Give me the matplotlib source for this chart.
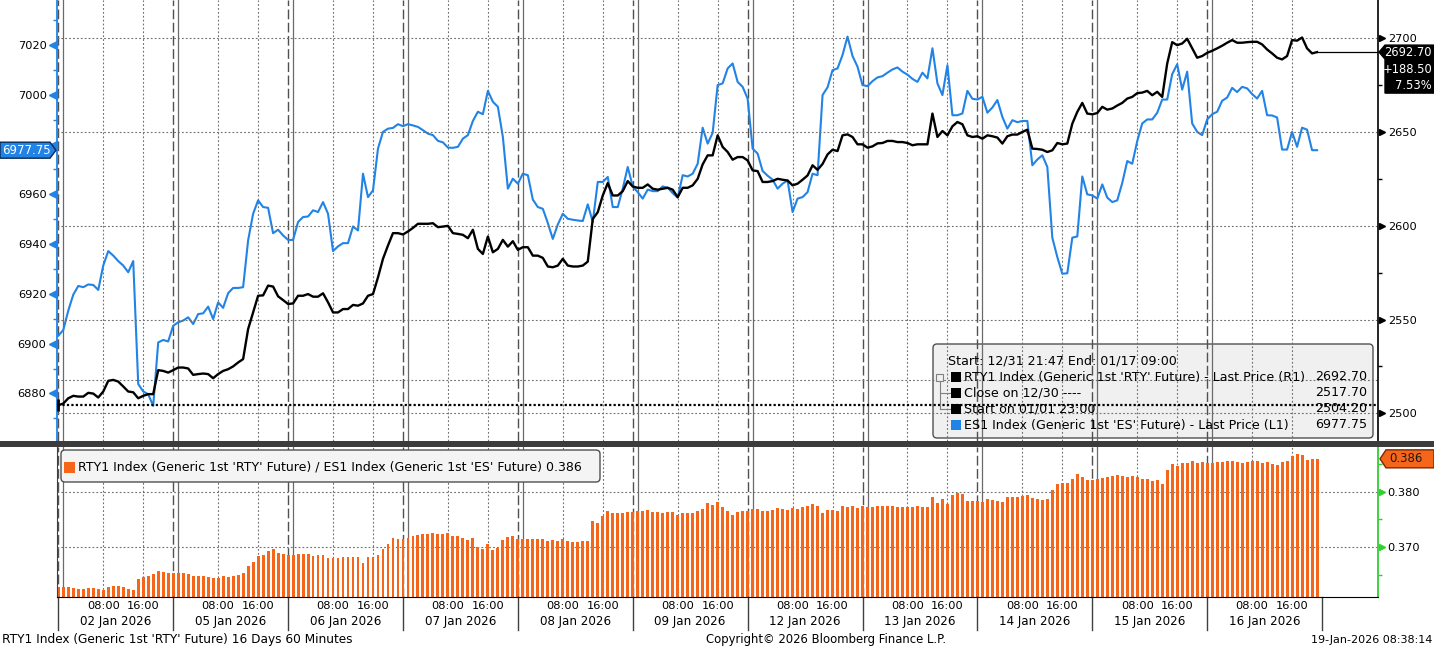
import numpy as np
import matplotlib
matplotlib.use("Agg")
import matplotlib.pyplot as plt
from matplotlib.patches import Polygon, FancyBboxPatch, Rectangle
from matplotlib.lines import Line2D
from matplotlib.ticker import MultipleLocator, FormatStrFormatter, FuncFormatter
from matplotlib.transforms import blended_transform_factory as blend, ScaledTranslation, IdentityTransform

plt.rcParams['font.family'] = ['DejaVu Sans']
plt.rcParams['font.size'] = 8

# ---------------- data (60-minute bars, 23 per session) ----------------
days = ['02 Jan 2026', '05 Jan 2026', '06 Jan 2026', '07 Jan 2026', '08 Jan 2026', '09 Jan 2026',
        '12 Jan 2026', '13 Jan 2026', '14 Jan 2026', '15 Jan 2026', '16 Jan 2026']
bars_per_day = 23
hour_labels = {9: '08:00', 17: '16:00'}

rty = [
    2504.3, 2505.2, 2508.0, 2509.3, 2508.9, 2508.9, 2510.9, 2510.5, 2508.4, 2511.6,
    2517.3, 2517.8, 2516.9, 2514.3, 2511.6, 2511.2, 2508.0, 2509.3, 2510.2, 2510.2,
    2523.0, 2522.6, 2521.7, 2523.0, 2524.4, 2524.4, 2523.9, 2520.5, 2520.9, 2521.2,
    2520.9, 2518.7, 2520.9, 2522.6, 2523.5, 2525.0, 2527.1, 2528.9, 2544.9, 2553.8,
    2562.7, 2562.9, 2568.1, 2567.6, 2562.4, 2560.4, 2558.3, 2558.6, 2562.7, 2562.7,
    2563.6, 2562.2, 2562.2, 2564.0, 2559.2,
    2553.8, 2553.8, 2555.6, 2555.6, 2557.8,
    2557.4, 2558.6, 2562.7, 2563.6, 2572.5, 2582.4, 2589.5, 2596.1, 2596.1, 2595.4,
    2597.0, 2598.9, 2601.1, 2601.1, 2601.1, 2601.4, 2599.3, 2599.6, 2600.0, 2596.1,
    2595.7, 2595.2, 2593.4, 2597.9, 2587.7, 2585.0, 2594.3, 2585.9, 2587.7, 2592.5,
    2588.9, 2591.8, 2587.2, 2588.6, 2588.6, 2584.1, 2584.1, 2582.9, 2578.3, 2577.9,
    2578.8, 2582.4, 2578.8, 2578.3, 2578.3, 2578.8, 2580.9, 2603.7, 2607.3,
    2616.2, 2622.8, 2616.2, 2616.2, 2618.5, 2623.9, 2621.0, 2620.3, 2620.3, 2622.1, 2619.8,
    2619.3, 2619.8, 2620.3, 2619.3, 2615.3, 2620.3, 2620.3, 2621.6, 2625.1, 2632.8,
    2637.6, 2637.6, 2648.3, 2642.1, 2639.4, 2635.3, 2636.7, 2636.7, 2634.9, 2629.6,
    2629.2, 2623.4, 2623.4, 2623.9, 2625.1, 2624.6, 2624.2, 2621.6, 2622.5, 2624.6,
    2626.9, 2632.3, 2629.9, 2633.0, 2638.1, 2640.6, 2639.9, 2648.3, 2648.8, 2647.4,
    2643.5, 2643.5,
    2641.7, 2642.4, 2644.0, 2644.2, 2645.3, 2645.3, 2644.7, 2644.7, 2644.2, 2643.0,
    2643.5, 2643.5, 2643.5, 2659.9, 2647.4, 2650.6, 2648.3, 2653.1, 2655.4, 2654.2,
    2648.3, 2647.4, 2647.8, 2646.5, 2648.3, 2647.8, 2647.1, 2643.9, 2647.8, 2648.7,
    2648.7, 2650.1, 2651.3, 2641.2, 2641.0, 2640.6, 2639.4, 2640.3, 2644.2, 2643.5,
    2643.9, 2654.5, 2660.8, 2665.6, 2659.9, 2659.5, 2660.2, 2663.5, 2662.0, 2662.6,
    2664.2, 2665.6, 2667.9, 2668.8, 2670.8,
    2671.1, 2672.0, 2669.7, 2671.5, 2668.8, 2686.6, 2698.0, 2696.4, 2697.3, 2699.8,
    2694.7, 2689.7, 2690.6, 2692.3, 2693.4, 2694.7, 2696.1, 2697.7, 2699.1, 2697.7,
    2697.7, 2698.0, 2698.2, 2698.2, 2696.8, 2694.1, 2692.0, 2689.7, 2688.8, 2690.6,
    2699.1, 2698.8, 2700.5, 2694.7, 2692.0, 2692.7,
]

es = [
    6903.2, 6905.5, 6913.3, 6919.7, 6923.2, 6922.7, 6923.8, 6923.6, 6921.6, 6931.4,
    6937.2, 6935.4, 6933.2, 6931.4, 6928.7, 6933.2, 6883.8, 6880.8, 6879.7, 6875.0,
    6900.5, 6901.5, 6900.9, 6907.2, 6908.6, 6909.3, 6910.6, 6907.9, 6911.9, 6912.2,
    6914.9, 6909.9, 6916.6, 6914.4, 6920.3, 6922.4, 6922.4, 6922.7, 6941.5, 6952.2,
    6957.6, 6954.9, 6954.6, 6944.4, 6945.8, 6943.5, 6941.7, 6941.7, 6948.9, 6950.9,
    6951.1, 6953.6, 6952.9, 6956.9, 6952.2,
    6937.2, 6939.1, 6940.4, 6940.4, 6947.1,
    6945.5, 6968.3, 6958.9, 6961.6, 6978.4, 6985.1, 6986.4, 6986.7, 6988.2, 6987.4,
    6988.2, 6987.7, 6987.1, 6985.8, 6984.4, 6983.8, 6981.5, 6980.9, 6978.8, 6978.7,
    6979.1, 6982.4, 6983.8, 6989.5, 6993.2, 6992.2, 7001.6, 6997.2, 6995.2, 6983.1,
    6962.3, 6966.3, 6964.3, 6968.3, 6967.7, 6957.9, 6954.9, 6954.2, 6948.5, 6942.1,
    6947.9, 6952.2, 6950.2, 6949.8, 6949.5, 6949.3, 6956.0, 6948.9, 6965.0,
    6965.0, 6967.0, 6954.9, 6954.9, 6962.3, 6971.0, 6963.2, 6960.9, 6958.3, 6961.9, 6961.3,
    6961.3, 6963.2, 6962.7, 6960.5, 6958.7, 6967.7, 6967.2, 6968.3, 6972.3, 6986.8,
    6980.4, 6984.7, 7003.9, 7004.6, 7010.6, 7012.6, 7005.2, 7003.2, 6998.5, 6978.4,
    6976.4, 6969.4, 6967.5, 6965.9, 6962.3, 6964.3, 6965.6, 6952.9, 6958.3, 6958.9,
    6960.9, 6968.3, 6967.7, 6999.9, 7003.0, 7009.9, 7010.6, 7016.0, 7023.4, 7015.6,
    7011.3, 7003.9,
    7003.5, 7005.5, 7007.0, 7007.5, 7008.9, 7010.2, 7011.0, 7009.3, 7008.1, 7006.4,
    7005.2, 7008.9, 7006.6, 7018.7, 7004.6, 6999.9, 7011.9, 6991.8, 6991.8, 6992.5,
    7001.6, 6998.4, 6998.1, 6999.2, 6992.8, 6994.9, 6997.9, 6991.1, 6986.4, 6989.8,
    6989.0, 6989.5, 6989.5, 6971.7, 6974.0, 6975.7, 6971.0, 6942.6, 6934.8, 6928.1,
    6928.3, 6942.6, 6943.1, 6967.2, 6960.0, 6959.6, 6958.3, 6964.0, 6958.7, 6956.9,
    6957.6, 6964.6, 6973.4, 6972.3, 6981.4,
    6988.5, 6990.1, 6990.1, 6992.8, 6998.1, 6998.1, 7008.3, 7012.3, 7002.1, 7009.3,
    6988.5, 6985.1, 6983.8, 6990.1, 6992.2, 6993.2, 6997.6, 6998.9, 7002.8, 7001.1,
    7003.2, 7002.6, 7000.3, 6998.5, 7001.6, 6991.8, 6991.7, 6990.9, 6978.0, 6978.0,
    6985.1, 6979.1, 6986.8, 6986.0, 6977.75, 6977.75,
]

rty_close_prev = 2517.70   # Close on 12/30
rty_start = 2504.20        # Start on 01/01 23:00

ratio = np.array(rty) / np.array(es)   # RTY1 / ES1

# ---------------- styling ----------------
BLUE = '#2183E6'
ORANGE = '#F5661A'
GREEN = '#2FD02F'
GRID = '#707070'
W, H = 1434, 649
ID = IdentityTransform()

fig = plt.figure(figsize=(W / 100, H / 100), dpi=100)
L, R = 57, 1378
XLIM = (-0.26, 264.2)

ax = fig.add_axes([L / W, 1 - 441 / H, (R - L) / W, 441 / H])
axr = ax.twinx()
ax2 = fig.add_axes([L / W, 1 - 597 / H, (R - L) / W, 150 / H])


def vgrid(a):
    for k in range(len(days)):
        b = k * bars_per_day
        a.axvline(b, color='#505050', lw=1.0, ls=(0, (7, 2.5)), zorder=1)
        a.axvline(b + 1, color='#6a6a6a', lw=0.9, zorder=1)
        for h in hour_labels:
            a.axvline(b + h, color=GRID, lw=0.8, ls=(0, (1.6, 1.9)), zorder=1)


vgrid(ax)
vgrid(ax2)

# horizontal grid (right scale) + reference lines
for v in [2500, 2550, 2600, 2650, 2700]:
    axr.axhline(v, color=GRID, lw=0.8, ls=(0, (1.6, 1.9)), zorder=1)
axr.axhline(rty_close_prev, color=GRID, lw=0.8, ls=(0, (1.6, 1.9)), zorder=1)
axr.plot([0, XLIM[1]], [rty_start, rty_start], color='black', lw=1.6, ls=(0, (1, 1)), zorder=2)

x = np.arange(len(rty))
ax.plot(np.arange(len(es)), es, color=BLUE, lw=1.5, zorder=3)
axr.plot(x, rty, color='black', lw=1.7, zorder=3)
axr.plot([x[-1], XLIM[1]], [rty[-1], rty[-1]], color='black', lw=0.9, zorder=3)
axr.plot([0], [rty_start], marker='|', ms=9, mew=2, color='black', zorder=4)

# ratio bars
RLIM = (0.36102, 0.38803)
ax2.bar(np.arange(len(ratio)), ratio - RLIM[0], bottom=RLIM[0], width=0.58, color=ORANGE, zorder=2)
for v in [0.370, 0.380]:
    ax2.axhline(v, color=GRID, lw=0.8, ls=(0, (1.6, 1.9)), zorder=1)

# ---------------- spines & ticks ----------------
for s in ['top', 'bottom', 'right']:
    ax.spines[s].set_visible(False)
ax.spines['left'].set_color(BLUE)
ax.spines['left'].set_linewidth(1.3)
for s in ['top', 'bottom', 'left']:
    axr.spines[s].set_visible(False)
axr.spines['right'].set_color('black')
axr.spines['right'].set_linewidth(1.2)
ax2.spines['top'].set_visible(False)
ax2.spines['left'].set_color('#404040')
ax2.spines['right'].set_color(GREEN)
ax2.spines['right'].set_linewidth(1.3)
ax2.spines['bottom'].set_color('black')

ax.set_xticks([])
axr.set_xticks([])
ax2.set_xticks([])

# the last-value tag on the left covers the tick label next to it
ax.yaxis.set_major_locator(MultipleLocator(20))
ax.yaxis.set_minor_locator(MultipleLocator(10))
ax.yaxis.set_major_formatter(FuncFormatter(lambda v, p: '' if abs(v - es[-1]) < 8 else f"{v:.0f}"))
ax.tick_params(axis='y', which='major', length=0, pad=7.5, labelsize=8.2)
ax.tick_params(axis='y', which='minor', length=3, color=BLUE, width=1)

axr.yaxis.set_major_locator(MultipleLocator(50))
axr.yaxis.set_minor_locator(MultipleLocator(25))
axr.tick_params(axis='y', which='major', length=0, pad=7.5, labelsize=8.2)
axr.tick_params(axis='y', which='minor', length=3, color='black', width=1)

ax2.yaxis.tick_right()
ax2.yaxis.set_major_locator(MultipleLocator(0.01))
ax2.yaxis.set_minor_locator(MultipleLocator(0.005))
ax2.yaxis.set_major_formatter(FormatStrFormatter('%.3f'))
ax2.tick_params(axis='y', which='major', length=0, pad=7, labelsize=8.2)
ax2.tick_params(axis='y', which='minor', length=3, color=GREEN, width=1)


# triangular tick markers
def tri(a, xa, vals, marker, color, dx_px, ms):
    tr = blend(a.transAxes, a.transData) + ScaledTranslation(dx_px / 100, 0, fig.dpi_scale_trans)
    a.plot([xa] * len(vals), vals, ls='none', marker=marker, ms=ms, color=color,
           transform=tr, clip_on=False, zorder=5)


tri(ax, 0, [6880, 6900, 6920, 6940, 6960, 6980, 7000, 7020], '<', BLUE, -4.5, 5.5)
tri(axr, 1, [2500, 2550, 2600, 2650, 2700], '>', 'black', 3.5, 5)
tri(ax2, 1, [0.370, 0.380], '>', GREEN, 3.5, 5)

for a in (ax, axr, ax2):
    a.set_xlim(*XLIM)
ax.set_ylim(6860.9, 7038.1)
axr.set_ylim(2485.2, 2720.5)
ax2.set_ylim(*RLIM)

# ---------------- x-axis labels below the ratio panel ----------------
tb = blend(ax2.transData, fig.transFigure)
for k, d in enumerate(days):
    b = k * bars_per_day
    for h, lab in hour_labels.items():
        ax2.text(b + h, 1 - 606 / H, lab, transform=tb, ha='center', va='center', fontsize=8.2)
    ax2.text(b + bars_per_day / 2, 1 - 622 / H, d, transform=tb, ha='center', va='center', fontsize=8.6)
for k in range(len(days) + 1):
    ax2.add_line(Line2D([k * bars_per_day] * 2, [1 - 597 / H, 1 - 630 / H], transform=tb,
                        color='#404040', lw=1, clip_on=False))

# separator band between panels
fig.patches.append(Rectangle((0, 1 - 447 / H), 1, 6 / H, transform=fig.transFigure,
                             facecolor='#3c3c3c', edgecolor='none', zorder=2))

# ---------------- legend boxes ----------------
ax.add_patch(FancyBboxPatch((933, H - 438), 440, 94, boxstyle='round,pad=0,rounding_size=4',
                            transform=ID, facecolor='#F0F0F0', edgecolor='#505050', lw=1,
                            zorder=0.5, clip_on=False))


def ftext(xp, yp, s, size=9.1, **kw):
    fig.text(xp, H - yp, s, transform=ID, va='center', fontsize=size, **kw)


def fsq(xp, yp, color, size=10):
    fig.patches.append(Rectangle((xp, H - yp - size / 2), size, size, transform=ID,
                                 facecolor=color, edgecolor='none', zorder=4))


ftext(948, 361, 'Start: 12/31 21:47 End: 01/17 09:00')
rows = [
    (377, 'black', "RTY1 Index (Generic 1st 'RTY' Future) - Last Price (R1)", f"{rty[-1]:.2f}"),
    (393, 'black', 'Close on 12/30 ----', f"{rty_close_prev:.2f}"),
    (409, 'black', 'Start on 01/01 23:00', f"{rty_start:.2f}"),
    (425, BLUE, "ES1 Index (Generic 1st 'ES' Future) - Last Price (L1)", f"{es[-1]:.2f}"),
]
for yp, c, lab, val in rows:
    fsq(951, yp, c)
    ftext(964, yp, lab)
    ftext(1367, yp, val, ha='right')
# tree glyph
fig.patches.append(Rectangle((936, H - 381), 7, 7, transform=ID, facecolor='#F0F0F0',
                             edgecolor='#808080', lw=0.8, zorder=4))
for sx, sy in [((937.5, 941.5), (H - 377.5, H - 377.5)), ((939.5, 939.5), (H - 381, H - 409)),
               ((939.5, 950), (H - 393, H - 393)), ((939.5, 950), (H - 409, H - 409))]:
    fig.lines.append(Line2D(sx, sy, transform=ID, color='#808080', lw=0.8, zorder=4))

# ratio legend
ax2.add_patch(FancyBboxPatch((61, H - 482), 539, 32, boxstyle='round,pad=0,rounding_size=4',
                             transform=ID, facecolor='#F4F4F4', edgecolor='#505050', lw=1,
                             zorder=4, clip_on=False))
fsq(64, 467, ORANGE, 11)
ftext(78, 467, f"RTY1 Index (Generic 1st 'RTY' Future) / ES1 Index (Generic 1st 'ES' Future) {ratio[-1]:.3f}",
      size=9.0)

# ---------------- last-value tags ----------------
yl = ax.transData.transform((0, es[-1]))[1]
fig.patches.append(Polygon([(0, yl + 8), (50, yl + 8), (56, yl), (50, yl - 8), (0, yl - 8)],
                           closed=True, transform=ID, facecolor=BLUE, edgecolor='#0a2a55', lw=1, zorder=5))
fig.text(26, yl, f"{es[-1]:.2f}", transform=ID, ha='center', va='center', color='white', fontsize=8.5, zorder=6)

yr = axr.transData.transform((0, rty[-1]))[1]
fig.patches.append(Polygon([(1379, yr), (1385, yr + 7), (1434, yr + 7), (1434, yr - 41), (1385, yr - 41), (1385, yr - 7)],
                           closed=True, transform=ID, facecolor='black', edgecolor='black', zorder=5))
chg = rty[-1] - rty_start
fig.text(1432, yr, f"{rty[-1]:.2f}", transform=ID, ha='right', va='center', color='white', fontsize=8.3, zorder=6)
fig.text(1432, yr - 17, f"{chg:+.2f}", transform=ID, ha='right', va='center', color='white', fontsize=8.3, zorder=6)
fig.text(1432, yr - 33, f"{chg / rty_start * 100:.2f}%", transform=ID, ha='right', va='center', color='white', fontsize=8.3, zorder=6)

yo = ax2.transData.transform((0, ratio[-1]))[1]
fig.patches.append(Polygon([(1380, yo), (1386, yo + 9), (1434, yo + 9), (1434, yo - 9), (1386, yo - 9)],
                           closed=True, transform=ID, facecolor=ORANGE, edgecolor='#7a2a00', lw=1, zorder=5))
fig.text(1389, yo, f"{ratio[-1]:.3f}", transform=ID, ha='left', va='center', color='#1a1a1a', fontsize=8.5, zorder=6)

# ---------------- footer ----------------
ftext(2, 640, "RTY1 Index (Generic 1st 'RTY' Future) 16 Days 60 Minutes", size=8.7, ha='left')
ftext(826, 640, "Copyright\u00a9 2026 Bloomberg Finance L.P.", size=8.4, ha='center')
ftext(1432, 640, "19-Jan-2026 08:38:14", size=8.0, ha='right')

fig.savefig('out.png', dpi=100)
